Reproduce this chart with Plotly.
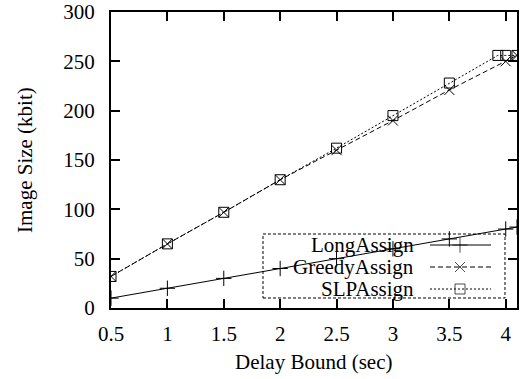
import plotly.graph_objects as go

# ---- data ----
long_x = [0.5, 1.0, 1.5, 2.0, 2.5, 3.0, 3.5, 4.0, 4.1]
long_y = [10, 20, 30, 40, 50, 60, 70, 80, 82]

greedy_x = [0.5, 1.0, 1.5, 2.0, 2.5, 3.0, 3.5, 4.0, 4.1]
greedy_y = [32, 65, 97, 130, 160, 190, 221, 250, 256]

slp_x = [0.5, 1.0, 1.5, 2.0, 2.5, 3.0, 3.5, 3.93, 4.0, 4.1]
slp_y = [32, 65, 97, 130, 162, 195, 228, 256, 256, 256]

series_names = ["LongAssign", "GreedyAssign", "SLPAssign"]
x_ticks = [0.5, 1, 1.5, 2, 2.5, 3, 3.5, 4]
x_tick_labels = ["0.5", "1", "1.5", "2", "2.5", "3", "3.5", "4"]
y_ticks = [0, 50, 100, 150, 200, 250, 300]
x_title = "Delay Bound (sec)"
y_title = "Image Size (kbit)"

FONT = "Liberation Serif"
FS = 21
styles = [
    dict(dash="solid", symbol="cross-thin-open", size=11),
    dict(dash="5px,3px", symbol="x-thin-open", size=10),
    dict(dash="2px,2px", symbol="square-open", size=10),
]

fig = go.Figure()
for (xs, ys), name, st in zip([(long_x, long_y), (greedy_x, greedy_y), (slp_x, slp_y)],
                              series_names, styles):
    fig.add_trace(go.Scatter(
        x=xs, y=ys, mode="lines+markers", name=name, showlegend=False,
        line=dict(color="black", width=1, dash=st["dash"]),
        marker=dict(symbol=st["symbol"], size=st["size"], color="black",
                    line=dict(color="black", width=1)),
        cliponaxis=True, hoverinfo="skip",
    ))

# ---- custom legend (text left of sample, dashed box) ----
leg_rows = [0.2128, 0.1385, 0.0642]
for name, st, yy in zip(series_names, styles, leg_rows):
    fig.add_trace(go.Scatter(
        x=[0.7857, 0.8596, 0.9360], y=[yy, yy, yy], xaxis="x2", yaxis="y2",
        mode="lines+markers", showlegend=False, hoverinfo="skip",
        line=dict(color="black", width=1, dash=st["dash"]),
        marker=dict(symbol=st["symbol"], size=[0, st["size"], 0], color="black",
                    line=dict(color="black", width=1)),
    ))
    fig.add_annotation(x=0.751, y=yy, xref="paper", yref="paper", text=name,
                       showarrow=False, xanchor="right", yanchor="middle",
                       font=dict(family=FONT, size=FS, color="black"))

fig.add_shape(type="rect", xref="paper", yref="paper",
              x0=0.3744, x1=0.9704, y0=0.0338, y1=0.25,
              line=dict(color="black", width=1, dash="3px,2px"))

# axis titles as annotations (pixel-accurate placement)
fig.add_annotation(x=(313 - 111) / 406.0, y=(308 - 362) / 296.0, xref="paper", yref="paper",
                   text=x_title, showarrow=False, xanchor="center", yanchor="middle",
                   font=dict(family=FONT, size=FS, color="black"))
fig.add_annotation(x=(25 - 111) / 406.0, y=0.5, xref="paper", yref="paper", text=y_title,
                   textangle=-90, showarrow=False, xanchor="center", yanchor="middle",
                   font=dict(family=FONT, size=FS, color="black"))

axis_common = dict(
    showgrid=False, zeroline=False, showline=True, linecolor="black", linewidth=2,
    mirror="ticks", ticks="inside", ticklen=9, tickwidth=1.5, tickcolor="black",
    tickfont=dict(family=FONT, size=FS, color="black"), automargin=False,
)

fig.update_layout(
    width=522, height=379,
    margin=dict(l=111, r=5, t=12, b=71),
    paper_bgcolor="white", plot_bgcolor="white",
    font=dict(family=FONT, size=FS, color="black"),
    xaxis=dict(range=[0.5, 4.1], tickvals=x_ticks, ticktext=x_tick_labels,
               ticklabelstandoff=6, **axis_common),
    yaxis=dict(range=[0, 300], tickvals=y_ticks,
               ticklabelstandoff=10, **axis_common),
    xaxis2=dict(range=[0, 1], overlaying="x", visible=False, fixedrange=True),
    yaxis2=dict(range=[0, 1], overlaying="y", visible=False, fixedrange=True),
    showlegend=False,
)

fig.write_html("out.html", config={"displayModeBar": False},
               post_script="document.body.style.margin='0';document.body.style.padding='0';")
